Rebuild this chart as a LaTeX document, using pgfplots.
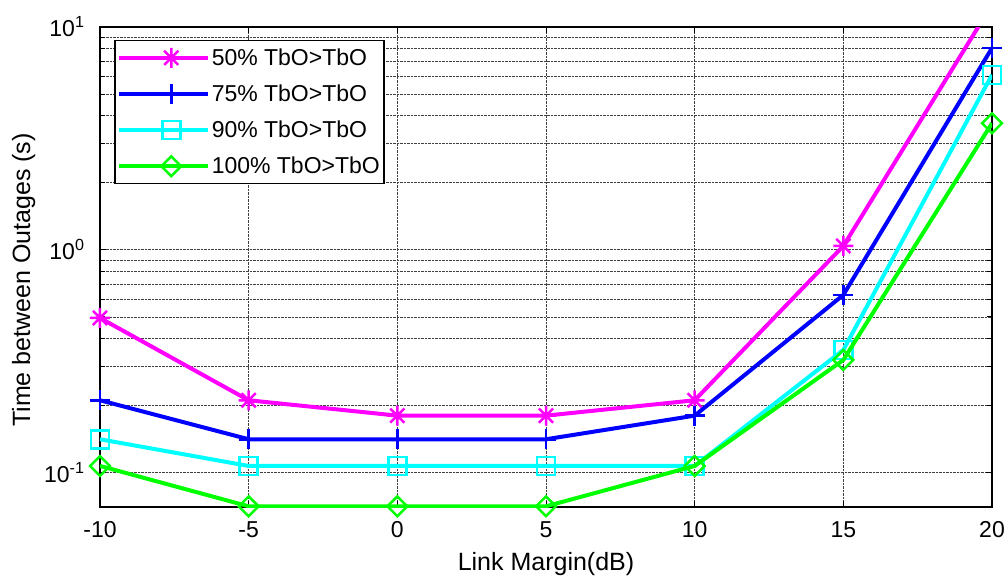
\documentclass[border=0pt]{standalone}
\usepackage{fontspec}
\setmainfont{Liberation Sans}
\usepackage{pgfplots}
\pgfplotsset{compat=1.18}

% pure RGB line colours
\definecolor{lmag}{rgb}{1,0,1}
\definecolor{lblue}{rgb}{0,0,1}
\definecolor{lcyan}{rgb}{0,1,1}
\definecolor{lgreen}{rgb}{0,1,0}

% eight-armed asterisk (a plus and a cross)
\pgfdeclareplotmark{mstar}{%
  \pgfpathmoveto{\pgfqpoint{-\pgfplotmarksize}{0pt}}%
  \pgfpathlineto{\pgfqpoint{\pgfplotmarksize}{0pt}}%
  \pgfpathmoveto{\pgfqpoint{0pt}{-\pgfplotmarksize}}%
  \pgfpathlineto{\pgfqpoint{0pt}{\pgfplotmarksize}}%
  \pgfpathmoveto{\pgfqpoint{-.707\pgfplotmarksize}{-.707\pgfplotmarksize}}%
  \pgfpathlineto{\pgfqpoint{.707\pgfplotmarksize}{.707\pgfplotmarksize}}%
  \pgfpathmoveto{\pgfqpoint{-.707\pgfplotmarksize}{.707\pgfplotmarksize}}%
  \pgfpathlineto{\pgfqpoint{.707\pgfplotmarksize}{-.707\pgfplotmarksize}}%
  \pgfusepathqstroke}

\begin{document}
\begin{tikzpicture}
\useasboundingbox (-100pt,-72pt) rectangle (907pt,507pt);
\begin{axis}[
  at={(0pt,0pt)}, anchor=south west,
  scale only axis, width=892pt, height=480pt,
  ymode=log,
  xmin=-10, xmax=20, ymin=0.07, ymax=10,
  xtick={-10,-5,0,5,10,15,20},
  xticklabels={-10,-5,0,5,10,15,20},
  ytick={0.1,1,10},
  yticklabels={10\textsuperscript{-1},10\textsuperscript{0},10\textsuperscript{1}},
  font=\fontsize{23}{27}\selectfont,
  tick label style={font=\fontsize{23}{27}\selectfont},
  xticklabel style={yshift=-11pt},
  yticklabel style={xshift=-12pt},
  xlabel={Link Margin(dB)},
  ylabel={Time between Outages (s)},
  label style={font=\fontsize{25}{29}\selectfont},
  xlabel style={yshift=-8pt},
  ylabel style={yshift=2pt, xshift=-13pt},
  xmajorgrids, ymajorgrids, yminorgrids,
  major grid style={densely dotted, black!75, line width=0.6pt},
  minor grid style={densely dotted, black!75, line width=0.6pt},
  tick align=inside,
  major tick length=6pt, minor tick length=5pt,
  tick style={black, line width=0.8pt},
  axis line style={black, line width=1.5pt},
  clip mode=individual,
  legend style={at={(axis description cs:0.0157,0.973)}, anchor=north west,
    draw=black, line width=1.5pt, fill=white,
    font=\fontsize{23}{27}\selectfont,
    nodes={inner xsep=2pt},
    row sep=14pt, inner xsep=2pt, inner ysep=6pt},
  legend cell align=left,
  legend image code/.code={%
    \path (0pt,0pt) -- (89pt,0pt);
    \draw[mark indices={2}]
      plot coordinates {(16pt,0pt) (52.5pt,0pt) (89pt,0pt)};},
]
% 50% TbO>TbO (last point lies above the plotted range)
\addplot[lmag, line width=4pt, mark=mstar, mark size=10pt,
  mark options={solid, line width=2.5pt}, mark indices={1,2,3,4,5,6}]
  coordinates {(-10,0.494) (-5,0.211) (0,0.18) (5,0.18) (10,0.211) (15,1.04) (20,12.6)};
\addlegendentry{50\% TbO>TbO}
% 75% TbO>TbO
\addplot[lblue, line width=4pt, mark=+, mark size=10pt,
  mark options={solid, line width=2.5pt}]
  coordinates {(-10,0.211) (-5,0.141) (0,0.141) (5,0.141) (10,0.18) (15,0.627) (20,8.05)};
\addlegendentry{75\% TbO>TbO}
% 90% TbO>TbO
\addplot[lcyan, line width=4pt, mark=square, mark size=9pt,
  mark options={solid, line width=2.5pt}]
  coordinates {(-10,0.141) (-5,0.107) (0,0.107) (5,0.107) (10,0.107) (15,0.355) (20,6.1)};
\addlegendentry{90\% TbO>TbO}
% 100% TbO>TbO
\addplot[lgreen, line width=4pt, mark=square, mark size=7pt,
  mark options={solid, line width=2.5pt, rotate=45}]
  coordinates {(-10,0.107) (-5,0.0705) (0,0.0705) (5,0.0705) (10,0.107) (15,0.32) (20,3.7)};
\addlegendentry{100\% TbO>TbO}
\end{axis}
\end{tikzpicture}
\end{document}
